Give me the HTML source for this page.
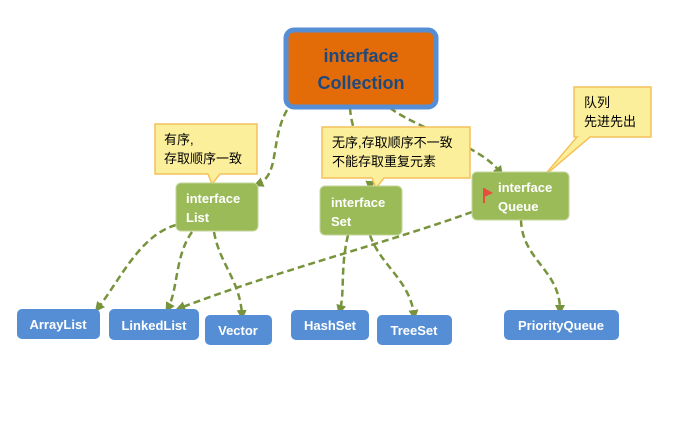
<!DOCTYPE html>
<html><head><meta charset="utf-8"><style>
html,body{margin:0;padding:0;background:#fff;width:695px;height:428px;overflow:hidden}
text{font-family:"Liberation Sans","Noto Sans CJK SC",sans-serif}
</style></head><body>
<svg width="695" height="428" viewBox="0 0 695 428" xmlns="http://www.w3.org/2000/svg">
<defs><marker id="a" markerWidth="10" markerHeight="10" refX="5" refY="5" orient="auto" markerUnits="userSpaceOnUse"><path d="M0,0 L10,5 L0,10 z" fill="#77933c"/></marker></defs>
<g fill="none" stroke="#77933c" stroke-width="2.5" stroke-dasharray="7,4" marker-end="url(#a)">
<path d="M287,110 C270,140 280,175 258,184"/>
<path d="M350,108 C352,140 372,160 370,186"/>
<path d="M390,108 C420,130 480,145 500,172"/>
<path d="M176,225 C140,235 120,280 98,308"/>
<path d="M192,232 C175,255 178,290 168,308"/>
<path d="M214,232 C220,265 240,280 242,315"/>
<path d="M472,212 C380,245 280,270 180,308"/>
<path d="M348,235 C340,270 345,290 340,310"/>
<path d="M370,235 C380,265 410,280 414,315"/>
<path d="M521,220 C522,260 560,270 560,310"/>
</g>
<rect x="286" y="30" width="150" height="77" rx="8" fill="#e36c09" stroke="#558ed5" stroke-width="5"/>
<text x="361" y="62" font-size="18" font-weight="bold" fill="#1f497d" text-anchor="middle">interface</text>
<text x="361" y="89" font-size="18" font-weight="bold" fill="#1f497d" text-anchor="middle">Collection</text>
<g fill="#fbef9b" stroke="#f5c15a" stroke-width="1.5">
<path d="M155,124 H257 V174 H220 L212,184 L208,174 H155 Z"/>
<path d="M322,127 H470 V178 H384 L376,188 L372,178 H322 Z"/>
<path d="M574,87 H651 V137 H590 L543,177 L577,137 H574 Z"/>
</g>
<g font-size="13" fill="#000">
<text x="164" y="144">有序,</text><text x="164" y="163">存取顺序一致</text>
<text x="332" y="147">无序,存取顺序不一致</text><text x="332" y="166">不能存取重复元素</text>
<text x="584" y="107">队列</text><text x="584" y="126">先进先出</text>
</g>
<g fill="#9bbb59" stroke="#c3d69b" stroke-width="1">
<rect x="176" y="183" width="82" height="48" rx="5"/>
<rect x="320" y="186" width="82" height="49" rx="5"/>
<rect x="472" y="172" width="97" height="48" rx="5"/>
</g>
<g font-size="13" font-weight="bold" fill="#fff">
<text x="186" y="203">interface</text><text x="186" y="222">List</text>
<text x="331" y="207">interface</text><text x="331" y="226">Set</text>
<text x="498" y="192">interface</text><text x="498" y="211">Queue</text>
</g>
<path d="M484,188 V203" stroke="#e84c3d" stroke-width="2"/><path d="M484,188 L493,193 L484,197 Z" fill="#e84c3d"/>
<g fill="#558ed5">
<rect x="17" y="309" width="83" height="30" rx="5"/>
<rect x="109" y="309" width="90" height="31" rx="5"/>
<rect x="205" y="315" width="67" height="30" rx="5"/>
<rect x="291" y="310" width="78" height="30" rx="5"/>
<rect x="377" y="315" width="75" height="30" rx="5"/>
<rect x="504" y="310" width="115" height="30" rx="5"/>
</g>
<g font-size="13" font-weight="bold" fill="#fff" text-anchor="middle">
<text x="58" y="329">ArrayList</text>
<text x="154" y="330">LinkedList</text>
<text x="238" y="335">Vector</text>
<text x="330" y="330">HashSet</text>
<text x="414" y="335">TreeSet</text>
<text x="561" y="330">PriorityQueue</text>
</g>
</svg>
</body></html>
